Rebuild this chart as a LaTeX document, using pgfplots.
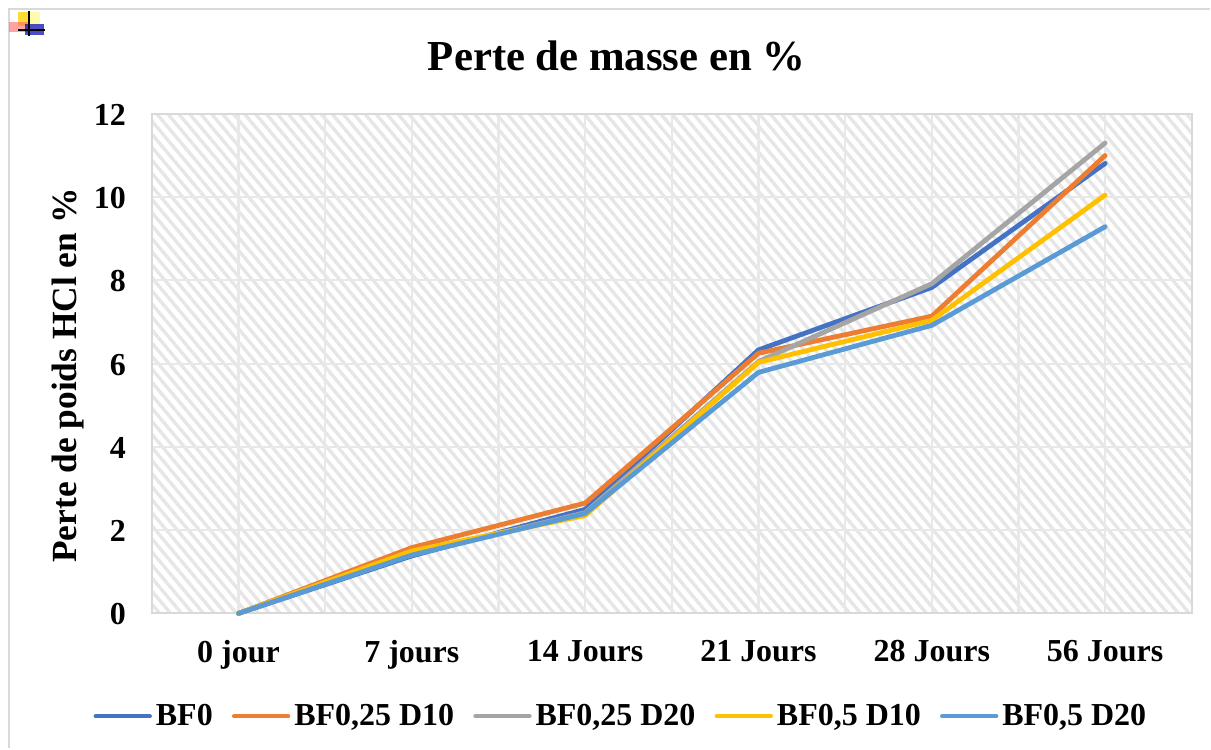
\documentclass[border=0pt]{standalone}
\usepackage{fontspec}
\setmainfont{Liberation Serif}
\usepackage{pgfplots}
\pgfplotsset{compat=1.18}
\usetikzlibrary{patterns.meta}
\definecolor{cA}{HTML}{4472C4}
\definecolor{cB}{HTML}{ED7D31}
\definecolor{cC}{HTML}{A5A5A5}
\definecolor{cD}{HTML}{FFC000}
\definecolor{cE}{HTML}{5B9BD5}
\definecolor{gridc}{HTML}{E8E8E8}
\definecolor{hatch}{HTML}{E6E6E6}
\definecolor{framec}{HTML}{D9D9D9}
\begin{document}
\begin{tikzpicture}
\begin{axis}[
  name=ax,
  scale only axis,width=520.5pt,height=250pt,
  xmin=-0.5,xmax=5.5,ymin=0,ymax=12,
  xtick={0,1,2,3,4,5},
  xticklabels={0 jour,7 jours,14 Jours,21 Jours,28 Jours,56 Jours},
  minor xtick={-0.5,0.5,1.5,2.5,3.5,4.5,5.5},
  ytick={0,2,4,6,8,10,12},
  major tick length=0pt,minor tick length=0pt,
  xmajorgrids,xminorgrids,ymajorgrids,
  grid style={gridc,line width=1.1pt},
  minor grid style={gridc,line width=1.1pt},
  axis line style={framec,line width=1pt},
  axis background/.style={pattern={Lines[angle=-50,distance=4.2pt,line width=1.7pt]},pattern color=hatch},
  /pgf/number format/assume math mode=true,
  tick label style={font=\bfseries\fontsize{16}{18}\selectfont,black},
  xticklabel style={yshift=-10pt},
  yticklabel style={xshift=-9.5pt,yshift=-0.5pt},
  title={Perte de masse en \%},
  title style={at={(axis description cs:0.447,1.092)},anchor=center,font=\bfseries\fontsize{21.4}{24}\selectfont},
  ylabel={Perte de poids HCl en \%},
  ylabel style={at={(axis description cs:-0.0808,0.476)},anchor=center,font=\bfseries\fontsize{17.7}{19}\selectfont},
  legend style={at={(axis description cs:0.452,-0.206)},anchor=center,draw=none,fill=none,
    legend columns=5,font=\bfseries\fontsize{16}{18}\selectfont,
    /tikz/every even column/.append style={column sep=7.6pt},inner sep=0pt},
  legend cell align=left,
  legend image code/.code={\draw[#1,line width=2.2pt,line cap=round] (0,0) -- (27pt,0);},
  every axis plot/.append style={line width=2.4pt,line cap=round,line join=round,no markers},
  clip=false,axis on top=false,
]
\addplot[cA] coordinates {(0,0) (1,1.38) (2,2.5) (3,6.33) (4,7.83) (5,10.81)};
\addplot[cB] coordinates {(0,0) (1,1.58) (2,2.65) (3,6.25) (4,7.14) (5,11.0)};
\addplot[cC] coordinates {(0,0) (1,1.42) (2,2.42) (3,6.05) (4,7.92) (5,11.3)};
\addplot[cD] coordinates {(0,0) (1,1.5) (2,2.35) (3,6.03) (4,7.04) (5,10.05)};
\addplot[cE] coordinates {(0,0) (1,1.4) (2,2.4) (3,5.79) (4,6.92) (5,9.29)};
\legend{BF0,{BF0,25 D10},{BF0,25 D20},{BF0,5 D10},{BF0,5 D20}}
\end{axis}
\begin{scope}[shift={(ax.south west)},shift={(-76pt,307pt)},x=.5pt,y=-.5pt]
\path (0,0) rectangle (1211,749);
\draw[framec,line width=1.2pt] (9,749) -- (9,9) -- (1211,9);
\fill[yellow!70!orange,opacity=.8] (18,12) rectangle (30,26);
\fill[yellow!40,opacity=.8] (30,12) rectangle (40,26);
\fill[red!60,opacity=.6] (9,22) rectangle (30,32);
\fill[blue!70!black,opacity=.7] (25,24) rectangle (44,35);
\draw[black,line width=.7pt] (29,11) -- (29,36) (18,30) -- (45,30);
\end{scope}
\end{tikzpicture}
\end{document}
